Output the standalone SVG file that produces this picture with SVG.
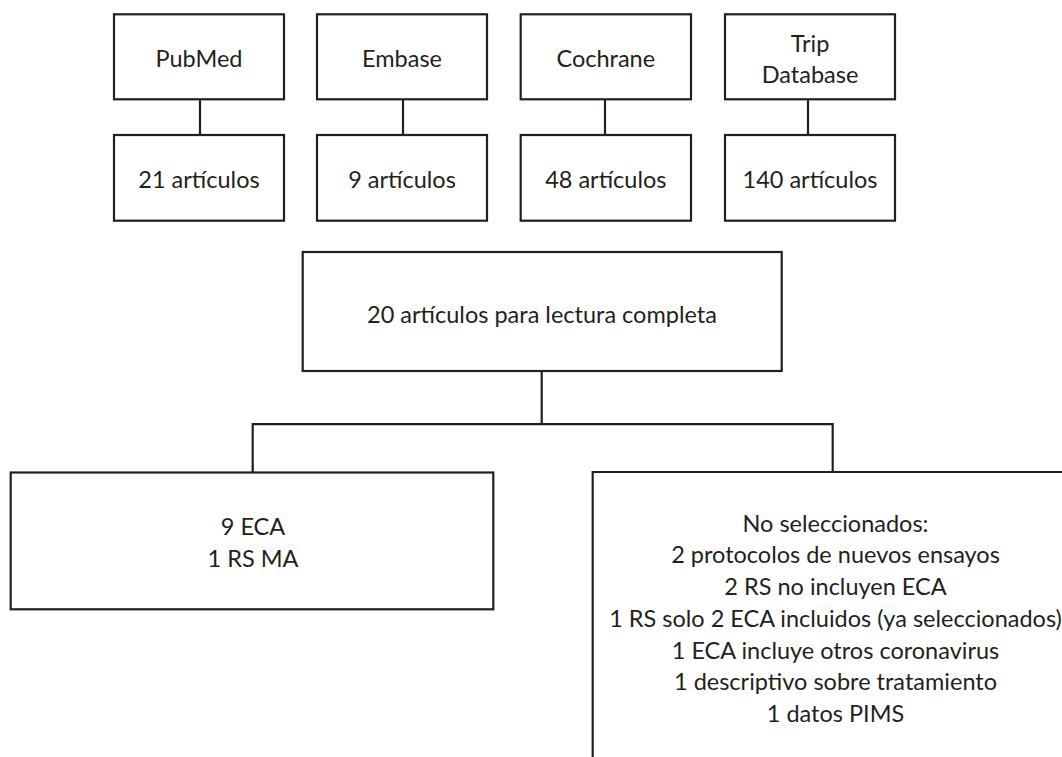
<svg xmlns="http://www.w3.org/2000/svg" width="1062" height="757" viewBox="0 0 1062 757">
<style>
.b{fill:#fff;stroke:#231f20;stroke-width:2.2}
.c{fill:none;stroke:#231f20;stroke-width:2.2}
text{font-family:Lato,"Open Sans","Liberation Sans",sans-serif;font-size:23.5px;fill:#231f20;text-anchor:middle}
</style>
<rect width="1062" height="757" fill="#fff"/>
<g id="connectors">
<line class="c" x1="200" y1="99.3" x2="200" y2="135"/>
<line class="c" x1="403" y1="99.3" x2="403" y2="135"/>
<line class="c" x1="605" y1="99.3" x2="605" y2="135"/>
<line class="c" x1="808" y1="99.3" x2="808" y2="135"/>
<path class="c" d="M541.7 371V424.2H252.7V472.3M541.7 424.2H832.7V472"/>
</g>
<g id="pubmed"><rect class="b" x="114" y="14.3" width="170" height="85"/><text x="199" y="66.7">PubMed</text></g>
<g id="embase"><rect class="b" x="317" y="14.3" width="170" height="85"/><text x="402" y="66.7">Embase</text></g>
<g id="cochrane"><rect class="b" x="520.7" y="14.3" width="170.3" height="85"/><text x="605.8" y="66.7">Cochrane</text></g>
<g id="trip"><rect class="b" x="725" y="14.3" width="170" height="85"/><text x="810" y="51.7">Trip</text><text x="810" y="82.7">Database</text></g>
<g id="pubmed-n"><rect class="b" x="114" y="135" width="170" height="85.7"/><text x="199" y="188">21 artículos</text></g>
<g id="embase-n"><rect class="b" x="317" y="135" width="170" height="85.7"/><text x="402" y="188">9 artículos</text></g>
<g id="cochrane-n"><rect class="b" x="520.7" y="135" width="170.3" height="85.7"/><text x="605.8" y="188">48 artículos</text></g>
<g id="trip-n"><rect class="b" x="725" y="135" width="170" height="85.7"/><text x="810" y="188">140 artículos</text></g>
<g id="full"><rect class="b" x="302.7" y="252" width="479" height="119"/><text x="542" y="322.5">20 artículos para lectura completa</text></g>
<g id="selected"><rect class="b" x="10.7" y="472.5" width="482.6" height="136.8"/><text x="253" y="535">9 ECA</text><text x="253" y="566.7">1 RS MA</text></g>
<g id="excluded"><path class="c" d="M592.7 770V472H1075"/>
<text x="835.5" y="531.7">No seleccionados:</text>
<text x="835.5" y="563.4">2 protocolos de nuevos ensayos</text>
<text x="835.5" y="595.1">2 RS no incluyen ECA</text>
<text x="835.5" y="626.8">1 RS solo 2 ECA incluidos (ya seleccionados)</text>
<text x="835.5" y="658.5">1 ECA incluye otros coronavirus</text>
<text x="835.5" y="690.2">1 descriptivo sobre tratamiento</text>
<text x="835.5" y="721.9">1 datos PIMS</text>
</g>
</svg>
